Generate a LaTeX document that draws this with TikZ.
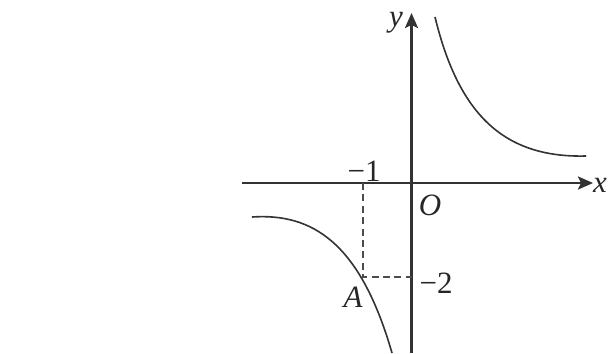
\documentclass[tikz,border=0pt]{standalone}
\usepackage{fontspec}
\setmainfont{Liberation Serif}
\usetikzlibrary{arrows.meta}
\begin{document}
\begin{tikzpicture}[x=0.5pt,y=-0.5pt,
  axis/.style={line width=1.25pt,draw=black!80,-{Stealth[length=7.5pt,width=6.5pt,inset=1.5pt]}},
  branch/.style={line width=0.8pt,draw=black!80},
  guide/.style={line width=1pt,draw=black!70,dash pattern=on 3.5pt off 2.2pt},
  lbl/.style={inner sep=0pt,text=black!85,font=\fontsize{15.5}{18}\selectfont}]
\useasboundingbox (0,0) rectangle (608,353);
% axes
\coordinate (xs) at (242,183);
\coordinate (xe) at (593,183);
\coordinate (ys) at (411.5,353);
\coordinate (ye) at (411.5,13);
\draw[axis] (xs) -- (xe);
\draw[axis] (ys) -- (ye);
% points
\coordinate (m1) at (363.3,183);
\coordinate (A) at (363.3,277.3);
\coordinate (m2) at (411.5,277.3);
% dashed guides
\draw[guide] (m1) -- (A) -- (m2);
% branches
\draw[branch] (435,17) .. controls (459,116) and (505,158) .. (586,156);
\draw[branch] (252,217) .. controls (312,213) and (360,242) .. (392,353);
% labels
\node[lbl] (ly) at (396,23) {\itshape y};
\node[lbl] (lx) at (600,185) {\itshape x};
\node[lbl] (lm1) at (364,171) {−1};
\node[lbl] (lO) at (430,205) {\itshape O};
\node[lbl] (lm2) at (436,283) {−2};
\node[lbl] (lA) at (353,297) {\itshape A};
\end{tikzpicture}
\end{document}
